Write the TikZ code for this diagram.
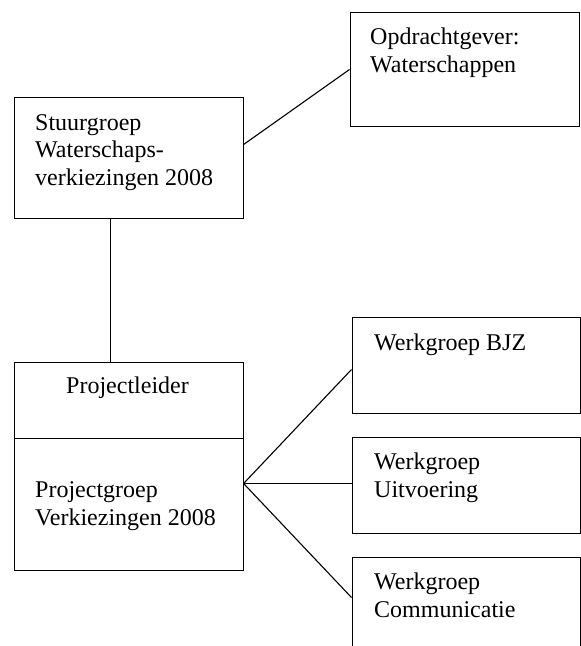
\documentclass[tikz,border=0pt]{standalone}
\usepackage{fontspec}
\setmainfont{Liberation Serif}
\usetikzlibrary{calc}
\begin{document}
\begin{tikzpicture}[x=1pt,y=-1pt,
  box/.style={draw,line width=1.1pt,rectangle,inner sep=0pt,anchor=north west},
  lbl/.style={anchor=base west,inner sep=0pt,align=left,font=\fontsize{24}{27.3}\selectfont},
  link/.style={line width=1.1pt}]
\useasboundingbox (0,0) rectangle (581,646);
\clip (0,0) rectangle (581,646);
% boxes
\node[box,minimum width=229pt,minimum height=121pt] (stuur) at (13.5,96.5) {};
\node[box,minimum width=229pt,minimum height=114pt] (opdr) at (349.5,11.5) {};
\node[box,minimum width=229pt,minimum height=76pt] (leider) at (13.5,361.5) {};
\node[box,minimum width=229pt,minimum height=132pt] (groep) at (13.5,437.5) {};
\node[box,minimum width=228pt,minimum height=96pt] (bjz) at (351.5,316.5) {};
\node[box,minimum width=228pt,minimum height=96pt] (uitv) at (351.5,436.5) {};
\node[box,minimum width=228pt,minimum height=130pt] (comm) at (351.5,556.5) {};
% texts (base anchor = baseline of the last line)
\node[lbl] (tstuur) at (35,185) {Stuurgroep\\Waterschaps-\\verkiezingen 2008};
\node[lbl] (topdr) at (370,72) {Opdrachtgever:\\Waterschappen};
\node[lbl,anchor=base] (tleider) at (127.5,393) {Projectleider};
\node[lbl] (tgroep) at (35,525) {Projectgroep\\Verkiezingen 2008};
\node[lbl] (tbjz) at (374,350) {Werkgroep BJZ};
\node[lbl] (tuitv) at (374,497) {Werkgroep\\Uitvoering};
\node[lbl] (tcomm) at (374,617) {Werkgroep\\Communicatie};
% connector points
\coordinate (s1) at ($(stuur.north east)+(0,48)$);
\coordinate (o1) at ($(opdr.north west)+(0,58)$);
\coordinate (s2) at ($(stuur.south west)+(97,0)$);
\coordinate (l1) at ($(leider.north west)+(97,0)$);
\coordinate (g1) at ($(groep.north east)+(0,46)$);
\coordinate (b1) at ($(bjz.north west)+(0,53)$);
\coordinate (u1) at ($(uitv.north west)+(0,47)$);
\coordinate (c1) at ($(comm.north west)+(0,41)$);
\draw[link] (s1) -- (o1);
\draw[link] (s2) -- (l1);
\draw[link] (g1) -- (b1);
\draw[link] (g1) -- (u1);
\draw[link] (g1) -- (c1);
\end{tikzpicture}
\end{document}
